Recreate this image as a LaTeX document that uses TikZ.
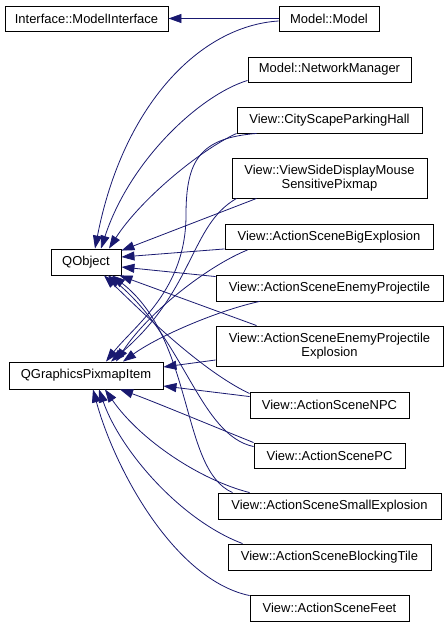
\documentclass[tikz,border=0pt]{standalone}
\usepackage{fontspec}
\setmainfont{Liberation Sans}
\usetikzlibrary{arrows.meta,calc}
\definecolor{edgeblue}{RGB}{25,25,112}
\begin{document}
\begin{tikzpicture}[x=1bp,y=-1bp,
  box/.style={draw=black,line width=0.9bp,fill=white,inner sep=0pt,align=center,
    font=\fontsize{13}{14}\selectfont,minimum height=25bp},
  edge/.style={draw=edgeblue,line width=0.8bp,-{Triangle[length=13bp,width=9bp]}}]
\useasboundingbox (0,0) rectangle (448,627);
% nodes
\node[box,minimum width=163bp] (iface) at (86.5,18.5) {Interface::ModelInterface};
\node[box,minimum width=100bp] (model) at (329,18.5) {Model::Model};
\node[box,minimum width=163bp] (netmgr) at (329.5,69.5) {Model::NetworkManager};
\node[box,minimum width=185bp,minimum height=26bp] (city) at (329.5,120) {View::CityScapeParkingHall};
\node[box,minimum width=195bp,minimum height=40bp] (vsd) at (329.5,178) {View::ViewSideDisplayMouse\\SensitivePixmap};
\node[box,minimum width=208bp] (bigex) at (329,237) {View::ActionSceneBigExplosion};
\node[box,minimum width=70bp,minimum height=26bp] (qobj) at (86,262) {QObject};
\node[box,minimum width=227bp,minimum height=26bp] (enproj) at (329.5,288) {View::ActionSceneEnemyProjectile};
\node[box,minimum width=227bp,minimum height=40bp] (epe) at (329.5,346) {View::ActionSceneEnemyProjectile\\Explosion};
\node[box,minimum width=154bp,minimum height=27bp] (qgpi) at (86,375.5) {QGraphicsPixmapItem};
\node[box,minimum width=159bp,minimum height=26bp] (npc) at (329.5,405) {View::ActionSceneNPC};
\node[box,minimum width=151bp] (pc) at (329.5,455.5) {View::ActionScenePC};
\node[box,minimum width=223bp,minimum height=26bp] (smallex) at (329.5,506) {View::ActionSceneSmallExplosion};
\node[box,minimum width=203bp,minimum height=26bp] (block) at (329.5,557) {View::ActionSceneBlockingTile};
\node[box,minimum width=159bp,minimum height=26bp] (feet) at (329.5,608) {View::ActionSceneFeet};
% edges
\draw[edge] (model.west) -- (iface.east);
\draw[edge] ($(model.west)+(0,2.5)$) .. controls (200,26) and (123,105) .. ($(qobj.north)+(9,0)$);
\draw[edge] ($(netmgr.south west)+(0,-2)$) .. controls (200,95) and (130,160) .. ($(qobj.north)+(15,0)$);
\draw[edge] (city.south west) .. controls (200,150) and (140,200) .. ($(qobj.north)+(23,0)$);
\draw[edge] ($(city.south west)+(20,0)$) .. controls (200,138) and (186,160) .. (186,215) .. controls (186,290) and (135,325) .. ($(qgpi.north)+(20,0)$);
\draw[edge] ($(vsd.south west)+(25,0)$) -- ($(qobj.north east)+(0,2)$);
\draw[edge] ($(vsd.south west)+(5,0)$) .. controls (190,225) and (195,290) .. ($(qgpi.north)+(25,0)$);
\draw[edge] ($(bigex.south west)+(0,-1)$) -- ($(qobj.east)+(0,-5)$);
\draw[edge] ($(bigex.south west)+(23,0)$) .. controls (210,265) and (150,310) .. ($(qgpi.north)+(30,0)$);
\draw[edge] ($(enproj.north west)+(0,2)$) -- ($(qobj.east)+(0,5)$);
\draw[edge] ($(enproj.south west)+(44,0)$) .. controls (220,310) and (160,335) .. ($(qgpi.north)+(37,0)$);
\draw[edge] ($(epe.north west)+(41,0)$) -- ($(qobj.south east)+(-2,0)$);
\draw[edge] ($(epe.west)+(0,14)$) -- ($(qgpi.east)+(0,-8.5)$);
\draw[edge] ($(npc.north west)+(0,2)$) .. controls (200,370) and (140,310) .. ($(qobj.south)+(18,0)$);
\draw[edge] ($(npc.north west)+(0,5)$) -- ($(qgpi.east)+(0,10.5)$);
\draw[edge] ($(pc.north west)+(0,4)$) .. controls (200,435) and (185,340) .. ($(qobj.south)+(22,0)$);
\draw[edge] (pc.north west) .. controls (210,425) and (150,400) .. ($(qgpi.south)+(34,0)$);
\draw[edge] ($(smallex.north west)+(15,0)$) .. controls (180,470) and (195,340) .. ($(qobj.south)+(26,0)$);
\draw[edge] ($(smallex.north west)+(32,0)$) .. controls (200,480) and (140,440) .. ($(qgpi.south)+(19,0)$);
\draw[edge] ($(block.north west)+(15,0)$) .. controls (180,520) and (120,450) .. ($(qgpi.south)+(13,0)$);
\draw[edge] ($(feet.north west)+(0,1)$) .. controls (175,580) and (115,470) .. ($(qgpi.south)+(7,0)$);
\end{tikzpicture}
\end{document}
